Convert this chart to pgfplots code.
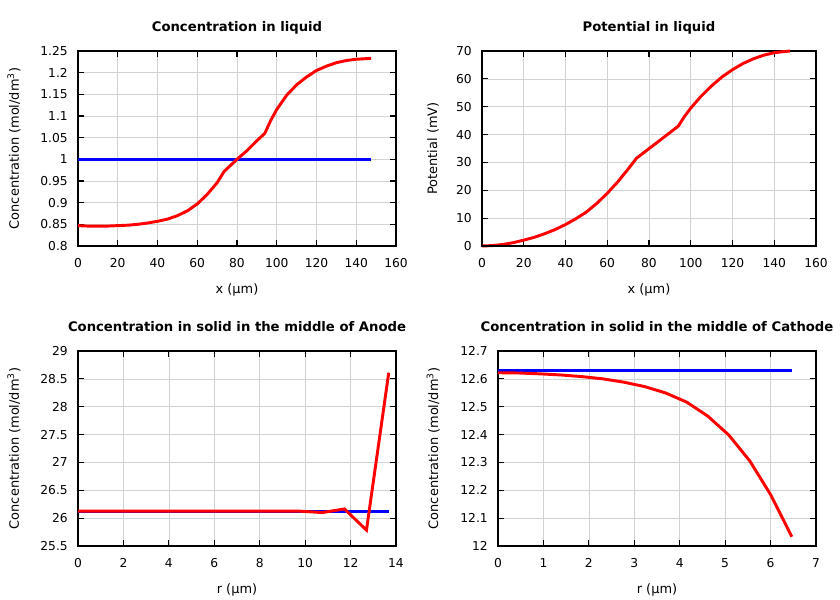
\documentclass[border=0pt]{standalone}
\usepackage{fontspec}
\setmainfont{DejaVu Sans}
\usepackage{pgfplots}
\pgfplotsset{compat=1.18}
\pgfplotsset{
  myax/.style={
    scale only axis, anchor=south west, clip=false,
    axis line style={line width=0.9pt},
    grid=major, major grid style={gray!35, line width=0.5pt},
    tick style={black, line width=0.8pt}, major tick length=4.5pt, tick align=inside,
    /pgf/number format/assume math mode=true,
    /pgf/number format/fixed,
    ticklabel style={font=\fontsize{9.2}{10}\selectfont},
    label style={font=\fontsize{9.7}{11}\selectfont},
    title style={font=\fontsize{9.9}{11}\selectfont\bfseries, at={(axis description cs:0.5,1)}, anchor=base, yshift=8.5pt, inner sep=0pt},
    xticklabel style={anchor=base, yshift=-16pt, inner sep=0pt},
    yticklabel style={anchor=east, inner sep=0pt, xshift=-7.5pt},
    xlabel style={at={(axis description cs:0.5,0)}, anchor=base, yshift=-36pt, inner sep=0pt},
    every axis plot/.append style={line width=2.2pt},
  }
}
\begin{document}
\begin{tikzpicture}
\path[use as bounding box] (0,0) rectangle (630pt,450pt);
% Top left
\begin{axis}[myax, at={(58.5pt,265.5pt)}, width=238.5pt, height=146.25pt,
  xmin=0, xmax=160, ymin=0.8, ymax=1.25,
  xtick={0,20,...,160}, ytick={0.8,0.85,0.9,0.95,1,1.05,1.1,1.15,1.2,1.25},
  yticklabels={0.8,0.85,0.9,0.95,1,1.05,1.1,1.15,1.2,1.25},
  title={Concentration in liquid}, xlabel={x (µm)},
  ylabel={Concentration (mol/dm\textsuperscript{3})},
  ylabel style={at={(axis description cs:-0.2013,0.5)}, anchor=center}]
\addplot[blue] coordinates {(0,1)(147.5,1)};
\addplot[red] coordinates {(0,0.847)(5,0.846)(10,0.846)(15,0.846)(20,0.847)(25,0.848)(30,0.850)(35,0.853)(40,0.857)(45,0.862)(50,0.870)(55,0.881)(60,0.897)(65,0.919)(70,0.946)(73.5,0.972)(77,0.987)(80,1.0)(85,1.02)(90,1.043)(94,1.06)(97,1.09)(100,1.115)(105,1.148)(110,1.172)(115,1.19)(120,1.205)(125,1.215)(130,1.223)(135,1.228)(140,1.231)(147.5,1.233)};
\end{axis}
% Top right
\begin{axis}[myax, at={(361.5pt,265.5pt)}, width=250.5pt, height=146.25pt,
  xmin=0, xmax=160, ymin=0, ymax=70,
  xtick={0,20,...,160}, ytick={0,10,...,70},
  title={Potential in liquid}, xlabel={x (µm)},
  ylabel={Potential (mV)},
  ylabel style={at={(axis description cs:-0.1467,0.5)}, anchor=center}]
\addplot[red] coordinates {(0,0)(5,0.15)(10,0.55)(15,1.2)(20,2.1)(25,3.1)(30,4.4)(35,5.9)(40,7.7)(45,9.8)(50,12.2)(55,15.3)(60,18.9)(65,23)(70,27.6)(74,31.5)(80,34.95)(85,37.8)(90,40.7)(94,43)(97,46.5)(100,49.5)(105,53.8)(110,57.5)(115,60.7)(120,63.3)(125,65.5)(130,67.2)(135,68.5)(140,69.4)(147.5,70)};
\addplot[blue] coordinates {(0,0)(147.5,0)};
\addplot[black] coordinates {(0,0)(147.5,0)};
\end{axis}
% Bottom left
\begin{axis}[myax, at={(58.5pt,40.5pt)}, width=238.5pt, height=146.25pt,
  xmin=0, xmax=14, ymin=25.5, ymax=29,
  xtick={0,2,...,14}, ytick={25.5,26,26.5,27,27.5,28,28.5,29},
  yticklabels={25.5,26,26.5,27,27.5,28,28.5,29},
  title={Concentration in solid in the middle of Anode}, xlabel={r (µm)},
  ylabel={Concentration (mol/dm\textsuperscript{3})},
  ylabel style={at={(axis description cs:-0.2013,0.5)}, anchor=center}]
\addplot[blue] coordinates {(0,26.125)(13.68,26.125)};
\addplot[red] coordinates {(0,26.125)(0.977,26.125)(1.954,26.125)(2.931,26.125)(3.908,26.125)(4.885,26.125)(5.862,26.125)(6.839,26.125)(7.816,26.125)(8.793,26.125)(9.77,26.125)(10.75,26.1)(11.73,26.165)(12.70,25.785)(13.68,28.61)};
\end{axis}
% Bottom right
\begin{axis}[myax, at={(373.5pt,40.5pt)}, width=238.5pt, height=146.25pt,
  xmin=0, xmax=7, ymin=12, ymax=12.7,
  xtick={0,1,...,7}, ytick={12,12.1,12.2,12.3,12.4,12.5,12.6,12.7},
  yticklabels={12,12.1,12.2,12.3,12.4,12.5,12.6,12.7},
  title={Concentration in solid in the middle of Cathode}, xlabel={r (µm)},
  ylabel={Concentration (mol/dm\textsuperscript{3})},
  ylabel style={at={(axis description cs:-0.2035,0.5)}, anchor=center}]
\addplot[blue] coordinates {(0,12.631)(6.468,12.631)};
\addplot[red] coordinates {(0,12.622)(0.462,12.621)(0.924,12.618)(1.386,12.614)(1.848,12.608)(2.31,12.600)(2.772,12.588)(3.234,12.572)(3.696,12.549)(4.158,12.516)(4.62,12.466)(5.082,12.398)(5.544,12.305)(6.006,12.183)(6.468,12.033)};
\end{axis}
\end{tikzpicture}
\end{document}
